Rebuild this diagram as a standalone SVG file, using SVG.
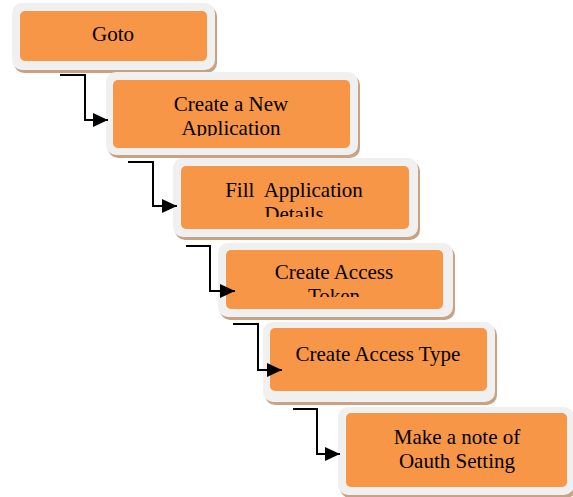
<svg xmlns="http://www.w3.org/2000/svg" width="573" height="497" viewBox="0 0 573 497">
<defs>
<style>
.sh{fill:#c9a283}
.fr{fill:#f0f0f0}
.bx{fill:#f79646}
.t{font-family:"Liberation Serif","Times New Roman",serif;font-size:21px;fill:#000;text-anchor:middle}
.c{fill:none;stroke:#000;stroke-width:2}
</style>
<marker id="ah" markerUnits="userSpaceOnUse" markerWidth="16" markerHeight="16" refX="15" refY="7" orient="auto">
<polygon points="0,0 15,7 0,14" fill="#000"/>
</marker>
<clipPath id="c2"><rect x="113" y="80" width="237" height="56"/></clipPath>
<clipPath id="c3"><rect x="181" y="166" width="228" height="51"/></clipPath>
<clipPath id="c4"><rect x="226" y="250" width="217" height="47"/></clipPath>
</defs>
<rect width="573" height="497" fill="#fff"/>
<g id="n1">
<rect class="sh" x="14" y="6" width="203" height="67" rx="10"/>
<rect class="fr" x="12" y="3" width="203" height="67" rx="10"/>
<rect class="bx" x="20" y="11" width="187" height="50" rx="5"/>
<text class="t" x="113" y="41">Goto</text>
</g>
<g id="n2">
<rect class="sh" x="108" y="75" width="252" height="83" rx="10"/>
<rect class="fr" x="106" y="72" width="252" height="83" rx="10"/>
<rect class="bx" x="113" y="80" width="237" height="68" rx="5"/>
<g clip-path="url(#c2)">
<text class="t" x="231" y="111">Create a New</text>
<text class="t" x="231" y="135">Application</text>
</g>
</g>
<g id="n3">
<rect class="sh" x="175" y="161" width="245" height="79" rx="10"/>
<rect class="fr" x="173" y="158" width="245" height="79" rx="10"/>
<rect class="bx" x="181" y="166" width="228" height="63" rx="5"/>
<g clip-path="url(#c3)">
<text class="t" x="294" y="197" xml:space="preserve">Fill  Application</text>
<text class="t" x="294" y="221">Details</text>
</g>
</g>
<g id="n4">
<rect class="sh" x="220" y="246" width="235" height="74" rx="10"/>
<rect class="fr" x="218" y="243" width="235" height="74" rx="10"/>
<rect class="bx" x="226" y="250" width="217" height="59" rx="5"/>
<g clip-path="url(#c4)">
<text class="t" x="334" y="279">Create Access</text>
<text class="t" x="334" y="303">Token</text>
</g>
</g>
<g id="n5">
<rect class="sh" x="265" y="325" width="232" height="80" rx="10"/>
<rect class="fr" x="263" y="322" width="232" height="80" rx="10"/>
<rect class="bx" x="270" y="328" width="217" height="63" rx="5"/>
<text class="t" x="378" y="361">Create Access Type</text>
</g>
<g id="n6">
<rect class="sh" x="340" y="410" width="236" height="88" rx="10"/>
<rect class="fr" x="338" y="407" width="236" height="88" rx="10"/>
<rect class="bx" x="346" y="413" width="221" height="74" rx="5"/>
<text class="t" x="457" y="444">Make a note of</text>
<text class="t" x="457" y="468">Oauth Setting</text>
</g>
<g id="connectors">
<path class="c" d="M60,75 H85 V120 H108" marker-end="url(#ah)"/>
<path class="c" d="M128,162 H153 V206 H177" marker-end="url(#ah)"/>
<path class="c" d="M186,246 H210 V291 H235" marker-end="url(#ah)"/>
<path class="c" d="M233,324 H258 V370 H282" marker-end="url(#ah)"/>
<path class="c" d="M293,409 H317 V454 H340" marker-end="url(#ah)"/>
</g>
</svg>
